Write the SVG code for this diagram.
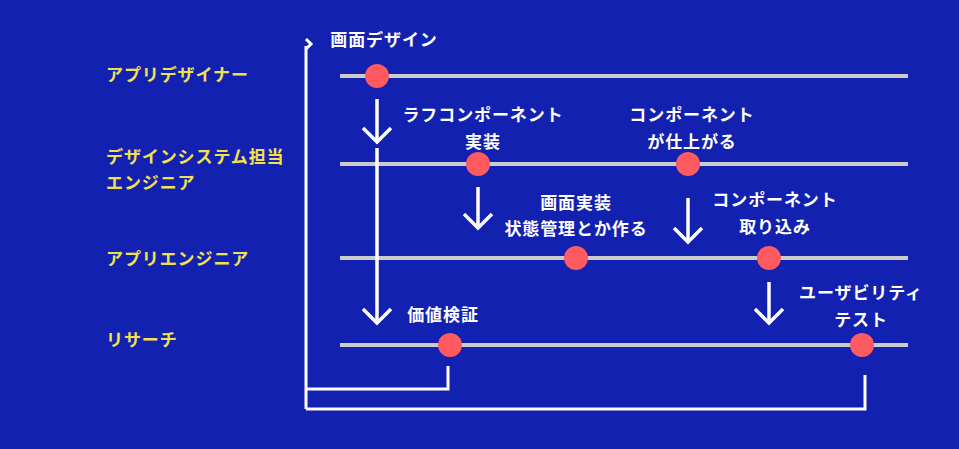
<svg xmlns="http://www.w3.org/2000/svg" width="959" height="449" viewBox="0 0 959 449">
<defs>
<style>
.bg{fill:#1221B0}
.lane{stroke:#CCCCCC;stroke-width:4;fill:none}
.dot{fill:#FF5A5F}
.role{fill:#F2E14C;font-family:"Noto Sans CJK JP","Noto Sans CJK SC",sans-serif;font-weight:bold;font-size:17px;letter-spacing:0.9px}
.lbl{fill:#FFFFFF;font-family:"Noto Sans CJK JP","Noto Sans CJK SC",sans-serif;font-weight:bold;font-size:17px;letter-spacing:0.9px;text-anchor:middle}
.wire{stroke:#FFFFFF;stroke-width:3;fill:none;stroke-linecap:butt}
.arrow{stroke:#FFFFFF;stroke-width:3.5;fill:none;stroke-linecap:butt;stroke-linejoin:miter}
</style>
</defs>
<rect class="bg" x="0" y="0" width="959" height="449"/>
<g id="roles">
<text class="role" x="106" y="81">アプリデザイナー</text>
<text class="role" x="106" y="163">デザインシステム担当</text>
<text class="role" x="106" y="189">エンジニア</text>
<text class="role" x="106" y="265">アプリエンジニア</text>
<text class="role" x="106" y="346">リサーチ</text>
</g>
<g id="lanes">
<line class="lane" x1="340" y1="76" x2="908" y2="76"/>
<line class="lane" x1="340" y1="164" x2="908" y2="164"/>
<line class="lane" x1="340" y1="258" x2="908" y2="258"/>
<line class="lane" x1="340" y1="345" x2="908" y2="345"/>
</g>
<g id="connectors">
<polyline class="wire" points="306,409 306,46"/>
<polyline class="wire" points="306,39 311,44 306,49"/>
<polyline class="wire" points="306,389 448,389 448,366"/>
<polyline class="wire" points="306,409 865,409 865,375"/>
<line class="arrow" x1="377" y1="99" x2="377" y2="141"/>
<polyline class="arrow" points="363,128 377,142 391,128"/>
<line class="arrow" x1="377" y1="148" x2="377" y2="322"/>
<polyline class="arrow" points="363,309 377,323 391,309"/>
<line class="arrow" x1="478" y1="187" x2="478" y2="227"/>
<polyline class="arrow" points="464,214 478,228 492,214"/>
<line class="arrow" x1="688" y1="198" x2="688" y2="241"/>
<polyline class="arrow" points="674,228 688,242 702,228"/>
<line class="arrow" x1="769" y1="282" x2="769" y2="322"/>
<polyline class="arrow" points="755,309 769,323 783,309"/>
</g>
<g id="n1"><circle class="dot" cx="377" cy="76" r="12"/><text class="lbl" x="384" y="46">画面デザイン</text></g>
<g id="n2"><circle class="dot" cx="478" cy="164" r="12"/><text class="lbl" x="483" y="121">ラフコンポーネント</text><text class="lbl" x="483" y="148">実装</text></g>
<g id="n3"><circle class="dot" cx="688" cy="164" r="12"/><text class="lbl" x="692" y="121">コンポーネント</text><text class="lbl" x="692" y="148">が仕上がる</text></g>
<g id="n4"><circle class="dot" cx="576" cy="258" r="12"/><text class="lbl" x="576" y="209">画面実装</text><text class="lbl" x="576" y="235">状態管理とか作る</text></g>
<g id="n5"><circle class="dot" cx="769" cy="258" r="12"/><text class="lbl" x="775" y="206">コンポーネント</text><text class="lbl" x="775" y="233">取り込み</text></g>
<g id="n6"><circle class="dot" cx="450" cy="345" r="12"/><text class="lbl" x="443" y="321">価値検証</text></g>
<g id="n7"><circle class="dot" cx="862" cy="345" r="12"/><text class="lbl" x="861" y="299">ユーザビリティ</text><text class="lbl" x="861" y="326">テスト</text></g>
</svg>
